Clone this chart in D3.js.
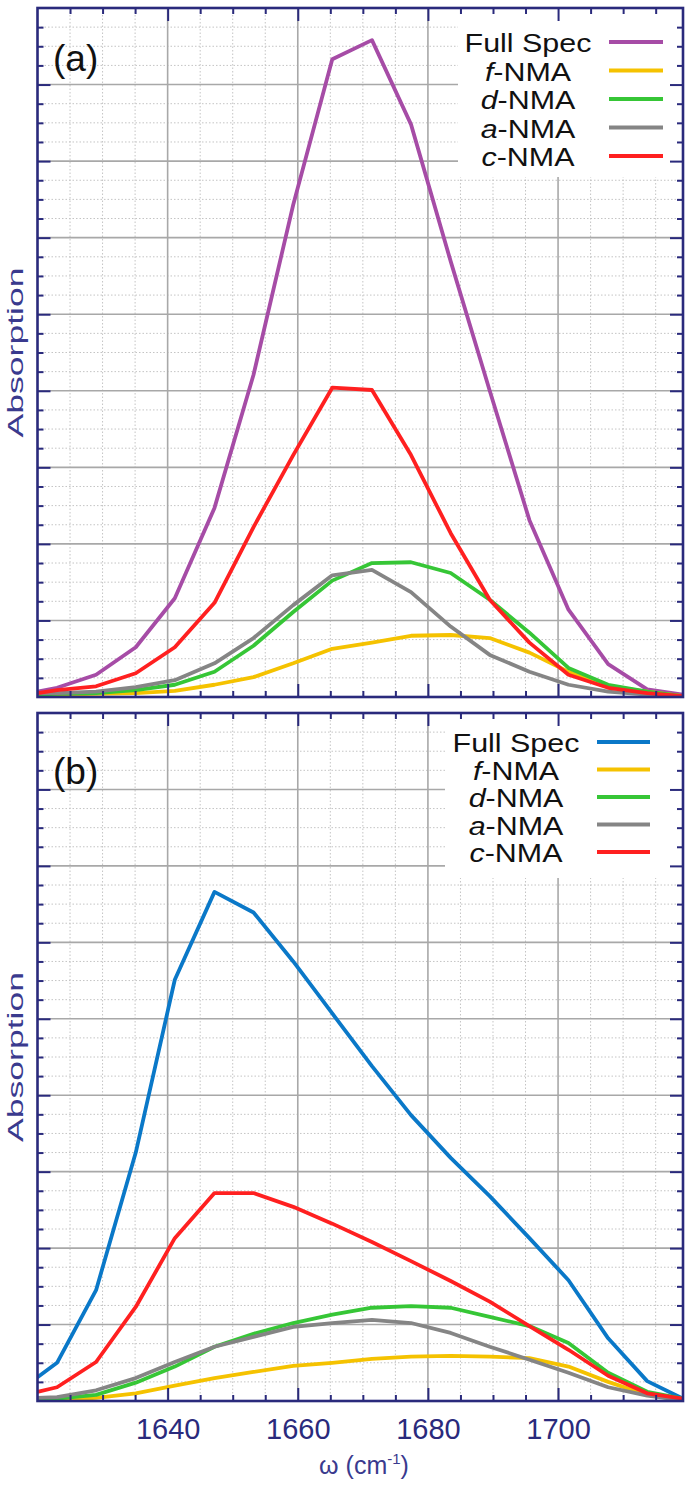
<!DOCTYPE html>
<html><head><meta charset="utf-8">
<script src="https://cdn.jsdelivr.net/npm/d3@7"></script>
<style>body{margin:0;background:#fff}</style>
</head><body>
<svg id="chart" width="688" height="1486" xmlns="http://www.w3.org/2000/svg"></svg>
<script>
// ---- data ----
const omega = [1620, 1623.0, 1629.0, 1635.1, 1641.1, 1647.2, 1653.2, 1659.3, 1665.3, 1671.4, 1677.4, 1683.5, 1689.5, 1695.6, 1701.6, 1707.7, 1713.7, 1719.2];

// panel (a)
const aFull = [0.07,0.12,0.29,0.65,1.29,2.47,4.21,6.43,8.33,8.58,7.48,5.69,4.00,2.31,1.14,0.43,0.10,0.03];
const aF    = [0.03,0.03,0.04,0.05,0.08,0.16,0.26,0.44,0.63,0.71,0.80,0.81,0.77,0.58,0.33,0.14,0.07,0.01];
const aD    = [0.03,0.04,0.05,0.09,0.16,0.33,0.67,1.11,1.52,1.75,1.76,1.62,1.27,0.84,0.38,0.16,0.07,0.01];
const aA    = [0.05,0.05,0.07,0.13,0.22,0.44,0.77,1.20,1.59,1.66,1.37,0.92,0.55,0.33,0.16,0.07,0.03,0.01];
const aC    = [0.05,0.09,0.14,0.31,0.65,1.23,2.22,3.16,4.04,4.01,3.16,2.14,1.27,0.71,0.29,0.12,0.05,0.01];

// panel (b)
const bFull = [0.31,0.50,1.45,3.25,5.51,6.66,6.39,5.75,5.07,4.38,3.74,3.18,2.68,2.13,1.58,0.82,0.26,0.03];
const bF    = [0.01,0.01,0.04,0.10,0.20,0.30,0.38,0.46,0.50,0.55,0.58,0.59,0.58,0.56,0.45,0.25,0.08,0.01];
const bD    = [0.01,0.03,0.08,0.24,0.45,0.71,0.88,1.02,1.13,1.22,1.24,1.22,1.10,0.98,0.76,0.37,0.12,0.03];
const bA    = [0.04,0.05,0.14,0.30,0.51,0.71,0.84,0.97,1.02,1.06,1.02,0.89,0.71,0.54,0.37,0.18,0.07,0.01];
const bC    = [0.12,0.18,0.51,1.23,2.13,2.72,2.72,2.54,2.32,2.08,1.83,1.57,1.30,0.98,0.67,0.33,0.10,0.03];

const legendItalic = ["", "f", "d", "a", "c"];
const legendRest   = ["Full Spec", "-NMA", "-NMA", "-NMA", "-NMA"];
const panelTags    = ["(a)", "(b)"];
const xTickLabels  = [1640, 1660, 1680, 1700];
const yLabel = "Absorption";

// ---- styling ----
const NAVY = "#2a2a7c";
const compColors = ["#f5c200", "#36c636", "#858585", "#ff2020"];
const fullColors = ["#a64ca6", "#0a78c8"];

const svg = d3.select("#chart");
const x = d3.scaleLinear().domain([1620, 1719.2]).range([37.5, 683]);
const xMinor = d3.range(1625, 1720, 5).filter(v => v % 20 !== 0);
const yMajor = d3.range(1, 9);
const yMinor = d3.range(0.25, 9, 0.25).filter(v => Math.abs(v % 1) > 1e-6);

const panels = [
  {top: 8,   bottom: 697,  series: [aFull, aF, aD, aA, aC], full: fullColors[0],
   legCx: 528, lineX0: 609, lineX1: 663, legY0: 52,  rowH: 28.5, boxX: 458, boxBottom: 177, tagY: 71},
  {top: 713, bottom: 1401, series: [bFull, bF, bD, bA, bC], full: fullColors[1],
   legCx: 516, lineX0: 597, lineX1: 650, legY0: 752, rowH: 27.5, boxX: 445, boxBottom: 878, tagY: 784}
];

panels.forEach((p, pi) => {
  const g = svg.append("g");
  const y = d3.scaleLinear().domain([0, 9]).range([p.bottom, p.top]);
  const L = x.range()[0], R = x.range()[1];

  // minor dotted grid
  g.append("g").selectAll("line").data(xMinor).join("line")
    .attr("x1", d => x(d)).attr("x2", d => x(d)).attr("y1", p.top).attr("y2", p.bottom)
    .attr("stroke", "#c4c4c4").attr("stroke-width", 1).attr("stroke-dasharray", "1.5,2");
  g.append("g").selectAll("line").data(yMinor).join("line")
    .attr("x1", L).attr("x2", R).attr("y1", d => y(d)).attr("y2", d => y(d))
    .attr("stroke", "#c4c4c4").attr("stroke-width", 1).attr("stroke-dasharray", "1.5,2");
  // major grid
  g.append("g").selectAll("line").data(xTickLabels).join("line")
    .attr("x1", d => x(d)).attr("x2", d => x(d)).attr("y1", p.top).attr("y2", p.bottom)
    .attr("stroke", "#a8a8a8").attr("stroke-width", 1.6);
  g.append("g").selectAll("line").data(yMajor).join("line")
    .attr("x1", L).attr("x2", R).attr("y1", d => y(d)).attr("y2", d => y(d))
    .attr("stroke", "#a8a8a8").attr("stroke-width", 1.6);

  // legend box (opaque)
  g.append("rect").attr("x", p.boxX).attr("y", p.top).attr("width", R - p.boxX)
    .attr("height", p.boxBottom - p.top).attr("fill", "#fff");

  // curves
  const clipId = "clip" + pi;
  svg.append("clipPath").attr("id", clipId).append("rect")
    .attr("x", L).attr("y", p.top).attr("width", R - L).attr("height", p.bottom - p.top);
  const line = d3.line().x((d, i) => x(omega[i])).y(d => y(d));
  const colors = [p.full].concat(compColors);
  g.append("g").attr("clip-path", `url(#${clipId})`).selectAll("path").data(p.series).join("path")
    .attr("d", line).attr("fill", "none")
    .attr("stroke", (d, i) => colors[i]).attr("stroke-width", 3.8)
    .attr("stroke-linejoin", "round").attr("stroke-linecap", "round");

  // legend
  legendRest.forEach((rest, i) => {
    const by = p.legY0 + i * p.rowH;
    const t = g.append("text").attr("x", p.legCx).attr("y", by).attr("text-anchor", "middle")
      .style("font-family", "'Liberation Sans', Arial, sans-serif").style("font-size", "26px").attr("fill", "#111");
    if (legendItalic[i]) t.append("tspan").style("font-style", "italic").text(legendItalic[i]);
    t.append("tspan").text(rest);
    const w = t.node().getComputedTextLength();
    t.attr("textLength", w * 1.17).attr("lengthAdjust", "spacingAndGlyphs");
    g.append("line").attr("x1", p.lineX0).attr("x2", p.lineX1).attr("y1", by - 10).attr("y2", by - 10)
      .attr("stroke", colors[i]).attr("stroke-width", 3.8);
  });

  // panel tag
  g.append("text").attr("x", 53).attr("y", p.tagY).text(panelTags[pi])
    .style("font-family", "'Liberation Sans', Arial, sans-serif").style("font-size", "37px").attr("fill", "#111");

  // y label
  const cy = (p.top + p.bottom) / 2;
  g.append("text").attr("x", 23).attr("y", cy).attr("transform", `rotate(-90,23,${cy})`)
    .attr("text-anchor", "middle").attr("textLength", 170).attr("lengthAdjust", "spacingAndGlyphs")
    .style("font-family", "'Liberation Sans', Arial, sans-serif").style("font-size", "22px")
    .attr("fill", "#3a3a8e").text(yLabel);

  // ticks (inward) on all four sides
  const axG = g.append("g");
  const addAxis = (axis, tx, ty) => {
    const a = axG.append("g").attr("transform", `translate(${tx},${ty})`).call(axis);
    a.select(".domain").remove();
    a.selectAll(".tick line").attr("stroke", NAVY).attr("stroke-width", 2);
    return a;
  };
  addAxis(d3.axisBottom(x).tickValues(xMinor).tickSize(-6).tickFormat(""), 0, p.bottom);
  addAxis(d3.axisTop(x).tickValues(xMinor).tickSize(-6).tickFormat(""), 0, p.top);
  addAxis(d3.axisTop(x).tickValues(xTickLabels).tickSize(-13).tickFormat(""), 0, p.top);
  addAxis(d3.axisLeft(y).tickValues(yMinor).tickSize(-6).tickFormat(""), L, 0);
  addAxis(d3.axisLeft(y).tickValues(yMajor).tickSize(-13).tickFormat(""), L, 0);
  addAxis(d3.axisRight(y).tickValues(yMinor).tickSize(-6).tickFormat(""), R, 0);
  addAxis(d3.axisRight(y).tickValues(yMajor).tickSize(-13).tickFormat(""), R, 0);
  const bot = addAxis(d3.axisBottom(x).tickValues(xTickLabels).tickSize(-13)
      .tickPadding(17).tickFormat(pi === 1 ? d3.format("d") : ""), 0, p.bottom);
  bot.selectAll("text").attr("fill", NAVY)
    .style("font-family", "'Liberation Sans', Arial, sans-serif").style("font-size", "29px");

  // frame
  g.append("rect").attr("x", L).attr("y", p.top).attr("width", R - L).attr("height", p.bottom - p.top)
    .attr("fill", "none").attr("stroke", NAVY).attr("stroke-width", 2.6);
});

// x-axis title
const xt = svg.append("text").attr("x", 364).attr("y", 1474).attr("text-anchor", "middle")
  .style("font-family", "'Liberation Sans', Arial, sans-serif").style("font-size", "25px").attr("fill", "#3a3a8e");
xt.append("tspan").text("ω (cm");
xt.append("tspan").attr("dy", -10).style("font-size", "15px").text("-1");
xt.append("tspan").attr("dy", 10).text(")");
</script>
</body></html>
